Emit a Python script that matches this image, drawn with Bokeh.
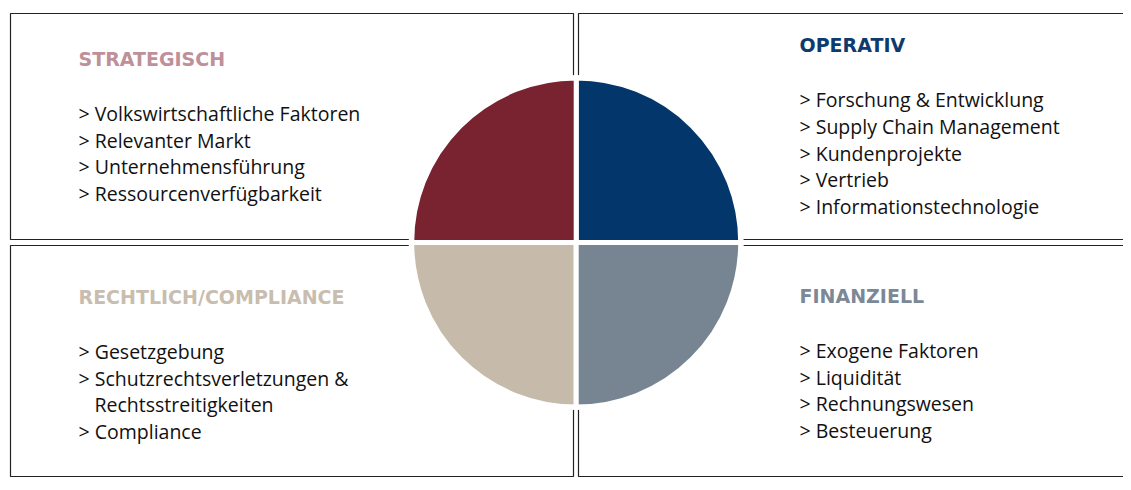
from bokeh.plotting import figure
from bokeh.models import Range1d, ColumnDataSource
from bokeh.core.properties import value
from bokeh.embed import file_html
from bokeh.resources import INLINE
import math

# ---- data ----
categories = ["OPERATIV", "STRATEGISCH", "RECHTLICH/COMPLIANCE", "FINANZIELL"]
shares = [25, 25, 25, 25]
wedge_colors = ["#03366A", "#7A2330", "#C6BBAA", "#778592"]
title_colors = ["#0D3B6D", "#BF9099", "#C8BDAE", "#7B8896"]

operativ_items = ["Forschung & Entwicklung", "Supply Chain Management", "Kundenprojekte",
                  "Vertrieb", "Informationstechnologie"]
strategisch_items = ["Volkswirtschaftliche Faktoren", "Relevanter Markt",
                     "Unternehmensführung", "Ressourcenverfügbarkeit"]
rechtlich_items = ["Gesetzgebung", "Schutzrechtsverletzungen &\nRechtsstreitigkeiten", "Compliance"]
finanziell_items = ["Exogene Faktoren", "Liquidität", "Rechnungswesen", "Besteuerung"]
items = [operativ_items, strategisch_items, rechtlich_items, finanziell_items]

# ---- layout (screen-pixel coordinates) ----
W, H = 1123, 482
p = figure(width=W, height=H, output_backend="svg", toolbar_location=None,
           x_range=Range1d(0, W), y_range=Range1d(H, 0),
           min_border=0, outline_line_color=None)
p.axis.visible = False
p.xgrid.visible = False
p.ygrid.visible = False
p.background_fill_color = "white"
p.border_fill_color = "white"

# boxes: OPERATIV (top-right), STRATEGISCH (top-left), RECHTLICH (bottom-left), FINANZIELL (bottom-right)
box_left = [578, 10, 10, 578]
box_right = [1135, 573, 573, 1135]
box_top = [13, 13, 245, 245]
box_bottom = [239, 239, 476, 476]
p.quad(left=box_left, right=box_right, top=box_top, bottom=box_bottom,
       fill_color=None, line_color="#222222", line_width=1.2)

# pie
cx, cy, R = 575.7, 242, 164.5
p.scatter(x=[cx], y=[cy], size=2 * 167.5, marker="circle", fill_color="white", line_color=None)
total = sum(shares)
starts, ends = [], []
acc = 0.0
for s in shares:
    starts.append(2 * math.pi * acc / total)
    acc += s
    ends.append(2 * math.pi * acc / total)
src = ColumnDataSource(dict(start=starts, end=ends, color=wedge_colors, cat=categories))
p.wedge(x=cx, y=cy, radius=R, start_angle="start", end_angle="end", direction="anticlock",
        fill_color="color", line_color="white", line_width=5, source=src)

# texts
font = "Open Sans"
tx = [799, 78, 78, 799]
dy = -8.5
title_y = [53.3 + dy, 66.7 + dy, 305 + dy, 304 + dy]
list_y0 = [107.8 + dy, 121.7 + dy, 359.5 + dy, 358.5 + dy]
step = 26.6
p.text(x=tx, y=title_y, text=categories, text_color=title_colors,
       text_font=value("DejaVu Sans"), text_font_style="bold", text_font_size="19px",
       text_baseline="alphabetic")

lx, ly, lt = [], [], []
for i, lst in enumerate(items):
    k = 0
    for it in lst:
        parts = it.split("\n")
        for j, part in enumerate(parts):
            if j == 0:
                lx.append(tx[i]); lt.append("> " + part)
            else:
                lx.append(tx[i] + 16); lt.append(part)
            ly.append(list_y0[i] + k * step)
            k += 1
p.text(x=lx, y=ly, text=lt, text_color="#111111", text_font=value(font),
       text_font_size="19.5px", text_baseline="alphabetic")

open("out.html", "w").write(file_html(p, INLINE))
